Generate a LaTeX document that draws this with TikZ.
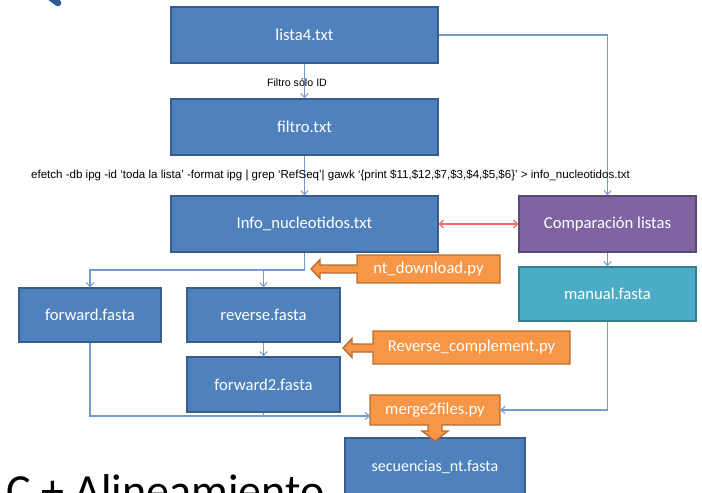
\documentclass[tikz,border=0pt]{standalone}
\usepackage{fontspec}
\usepackage{graphicx}
\setmainfont{Carlito}
\newfontfamily\arialfont{Liberation Sans}
\usetikzlibrary{arrows.meta,calc}
\definecolor{bfill}{HTML}{4F81BD}
\definecolor{bdraw}{HTML}{385D8A}
\definecolor{pfill}{HTML}{8064A2}
\definecolor{pdraw}{HTML}{5C4776}
\definecolor{cfill}{HTML}{4BACC6}
\definecolor{cdraw}{HTML}{357D91}
\definecolor{ofill}{HTML}{F79646}
\definecolor{odraw}{HTML}{B66D31}
\definecolor{conncol}{HTML}{739BD0}
\definecolor{redcol}{HTML}{F26B6B}
\definecolor{darkblue}{HTML}{2F5B96}
\tikzset{
  boxbase/.style={rectangle, inner sep=0pt, line width=1pt, text=white, font=\fontsize{12.5}{14}\selectfont},
  bluebox/.style={boxbase, fill=bfill, draw=bdraw},
  purplebox/.style={boxbase, fill=pfill, draw=pdraw},
  cyanbox/.style={boxbase, fill=cfill, draw=cdraw},
  orangetext/.style={inner sep=0pt, text=white, font=\fontsize{12.5}{14}\selectfont},
  orangeshape/.style={fill=ofill, draw=odraw, line width=1pt, line join=miter},
  conn/.style={draw=conncol, line width=0.8pt, -{Straight Barb[length=3pt,width=5.5pt]}},
  plainconn/.style={draw=conncol, line width=0.8pt},
  redconn/.style={draw=redcol, line width=0.9pt, {Straight Barb[length=3pt,width=6pt]}-{Straight Barb[length=3pt,width=6pt]}},
  smalllabel/.style={inner sep=0pt, text=black, font=\arialfont\fontsize{8}{9}\selectfont},
}
\begin{document}
\begin{tikzpicture}[x=0.75pt, y=-0.75pt]
\useasboundingbox (0,0) rectangle (702,492);
% top-left fragment
\draw[darkblue, line width=5pt, line cap=round] (46,-6) -- (58,3);
% boxes
\node[bluebox, minimum width=200.25pt, minimum height=42pt] (lista4) at (304.5,35) {lista4.txt};
\node[bluebox, minimum width=200.25pt, minimum height=42pt] (filtro) at (304.5,127) {filtro.txt};
\node[bluebox, minimum width=200.25pt, minimum height=42pt] (info) at (304.5,224) {Info\_nucleotidos.txt};
\node[purplebox, minimum width=132.75pt, minimum height=42pt] (comp) at (607.5,224) {Comparación listas};
\node[cyanbox, minimum width=132.75pt, minimum height=40.5pt] (manual) at (607.5,294) {manual.fasta};
\node[bluebox, minimum width=106.5pt, minimum height=40.5pt] (forward) at (90,315) {forward.fasta};
\node[bluebox, minimum width=114.75pt, minimum height=40.5pt] (reverse) at (263.5,315) {reverse.fasta};
\node[bluebox, minimum width=114.75pt, minimum height=41.25pt] (forward2) at (263.5,384.5) {forward2.fasta};
\node[bluebox, minimum width=135pt, minimum height=43.5pt, font=\fontsize{12}{14}\selectfont] (secu) at (435,467) {secuencias\_nt.fasta};
% orange callouts
\path[orangeshape] (500,255) -- (357,255) -- (357,265) -- (320,265) -- (320,259.5) -- (311,269) -- (320,278.5) -- (320,273) -- (357,273) -- (357,283) -- (500,283) -- cycle;
\node[orangetext] (ntdl) at (428.5,269) {nt\_download.py};
\path[orangeshape] (570,331) -- (373,331) -- (373,344) -- (352,344) -- (352,338.5) -- (343,348) -- (352,357.5) -- (352,352) -- (373,352) -- (373,364) -- (570,364) -- cycle;
\node[orangetext] (revc) at (471.5,347.5) {Reverse\_complement.py};
\path[orangeshape] (370,395) -- (500,395) -- (500,425) -- (442,425) -- (442,431) -- (448,431) -- (435,441) -- (422,431) -- (428,431) -- (428,425) -- (370,425) -- cycle;
\node[orangetext, minimum width=97.5pt, minimum height=22.5pt] (merge) at (435,410) {merge2files.py};
% connectors
\draw[conn] (lista4.south) -- (filtro.north);
\node[smalllabel] (lbl1) at (297,83) {Filtro sólo ID};
\draw[conn] (lista4.east) -| (comp.north);
\draw[conn] (filtro.south) -- (info.north);
\node[smalllabel] (lbl2) at (330.5,175) {\resizebox{449pt}{!}{efetch -db ipg -id ‘toda la lista’ -format ipg | grep ‘RefSeq’| gawk ‘\{print \$11,\$12,\$7,\$3,\$4,\$5,\$6\}’ > info\_nucleotidos.txt}};
\draw[redconn] (info.east) -- (comp.west);
\coordinate (split) at (304.5,270);
\draw[conn] (info.south) -- (split) -| (forward.north);
\draw[conn] (split -| reverse.north) -- (reverse.north);
\draw[conn] (comp.south) -- (manual.north);
\draw[conn] (reverse.south) -- (forward2.north);
\coordinate (mj) at (370,416);
\draw[conn] (forward.south) |- (mj);
\draw[plainconn] (forward2.south) -- (forward2.south |- mj);
\draw[conn] (manual.south) |- (merge.east);
% bottom-left large text
\node[anchor=base east, inner sep=0pt, text=black, font=\fontsize{34.5}{40}\selectfont] (title) at (325,506) {C + Alineamiento};
\end{tikzpicture}
\end{document}
